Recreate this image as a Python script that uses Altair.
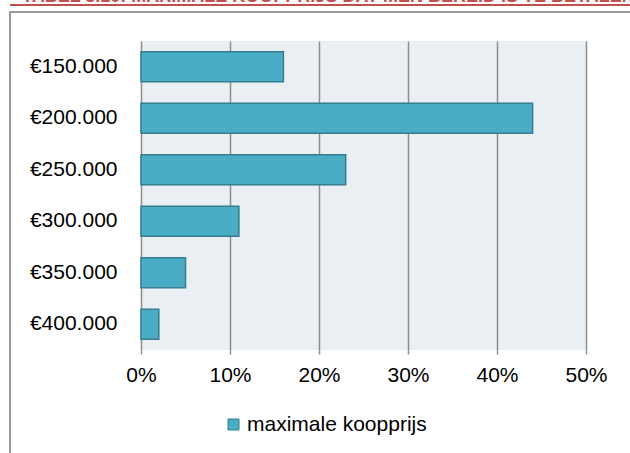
import altair as alt
import pandas as pd

# Maximum purchase price respondents are willing to pay (share of respondents)
prijsklassen = ["€150.000", "€200.000", "€250.000", "€300.000", "€350.000", "€400.000"]
aandelen = [0.16, 0.44, 0.23, 0.11, 0.05, 0.02]
reeks = "maximale koopprijs"
x_ticks = [0.0, 0.1, 0.2, 0.3, 0.4, 0.5]
titel = "TABEL 3.10: MAXIMALE KOOPPRIJS DAT MEN BEREID IS TE BETALEN"

FONT = "Liberation Sans"
BAR_FILL = "#4BACC6"
BAR_EDGE = "#357D91"
GRID = "#8C8C8C"
FRAME = "#9A9A9A"
RED = "#C0504D"

df = pd.DataFrame({"prijs": prijsklassen, "aandeel": aandelen, "serie": [reeks] * len(prijsklassen)})
one = pd.DataFrame({"k": [0]})

bars = alt.Chart(df).mark_bar(stroke=BAR_EDGE, strokeWidth=1.5).encode(
    x=alt.X(
        "aandeel:Q",
        scale=alt.Scale(domain=[0, 0.5], nice=False),
        axis=alt.Axis(format=".0%", values=x_ticks, title=None),
    ),
    y=alt.Y(
        "prijs:N",
        sort=prijsklassen,
        scale=alt.Scale(paddingInner=0.42, paddingOuter=0.21),
        axis=alt.Axis(title=None),
    ),
    color=alt.Color(
        "serie:N",
        scale=alt.Scale(range=[BAR_FILL]),
        legend=alt.Legend(
            title=None,
            orient="none",
            legendX=82,
            legendY=373,
            symbolType="square",
            symbolSize=121,
            symbolStrokeColor=BAR_EDGE,
            symbolStrokeWidth=1,
            symbolOpacity=1,
            labelFont=FONT,
            labelFontSize=21,
            labelColor="#000000",
            labelOffset=3,
            labelLimit=0,
            padding=0,
        ),
    ),
)

# Page decorations: heading, its red rule and the chart frame
heading = alt.Chart(one).mark_text(
    align="left", baseline="alphabetic", font=FONT, fontSize=18, fontWeight="bold", color=RED
).encode(x=alt.value(-119), y=alt.value(-38.8), text=alt.value(titel))

red_rule = alt.Chart(one).mark_rule(color=RED, strokeWidth=2).encode(
    x=alt.value(-131), x2=alt.value(600), y=alt.value(-36)
)
frame_top = alt.Chart(one).mark_rule(color=FRAME, strokeWidth=2).encode(
    x=alt.value(-131), x2=alt.value(600), y=alt.value(-29)
)
frame_left = alt.Chart(one).mark_rule(color=FRAME, strokeWidth=2).encode(
    x=alt.value(-131), y=alt.value(-30), y2=alt.value(420)
)

chart = (
    alt.layer(bars, heading, red_rule, frame_top, frame_left)
    .properties(
        width=445,
        height=309,
        autosize=alt.AutoSizeParams(type="none"),
        padding={"left": 141, "top": 41, "right": 44, "bottom": 103},
        background="#FFFFFF",
    )
    .configure_view(fill="#E9EFF2", stroke=None)
    .configure_axisX(
        grid=True,
        gridColor=GRID,
        gridWidth=1.5,
        domain=False,
        ticks=True,
        tickColor=GRID,
        tickWidth=1.5,
        tickSize=4,
        labelFont=FONT,
        labelFontSize=21,
        labelColor="#000000",
        labelPadding=10,
        labelFlush=False,
    )
    .configure_axisY(
        grid=False,
        domain=False,
        ticks=False,
        labelFont=FONT,
        labelFontSize=21,
        labelColor="#000000",
        labelPadding=24,
    )
)

chart.save("out.html", embed_options={"renderer": "svg", "actions": False})
